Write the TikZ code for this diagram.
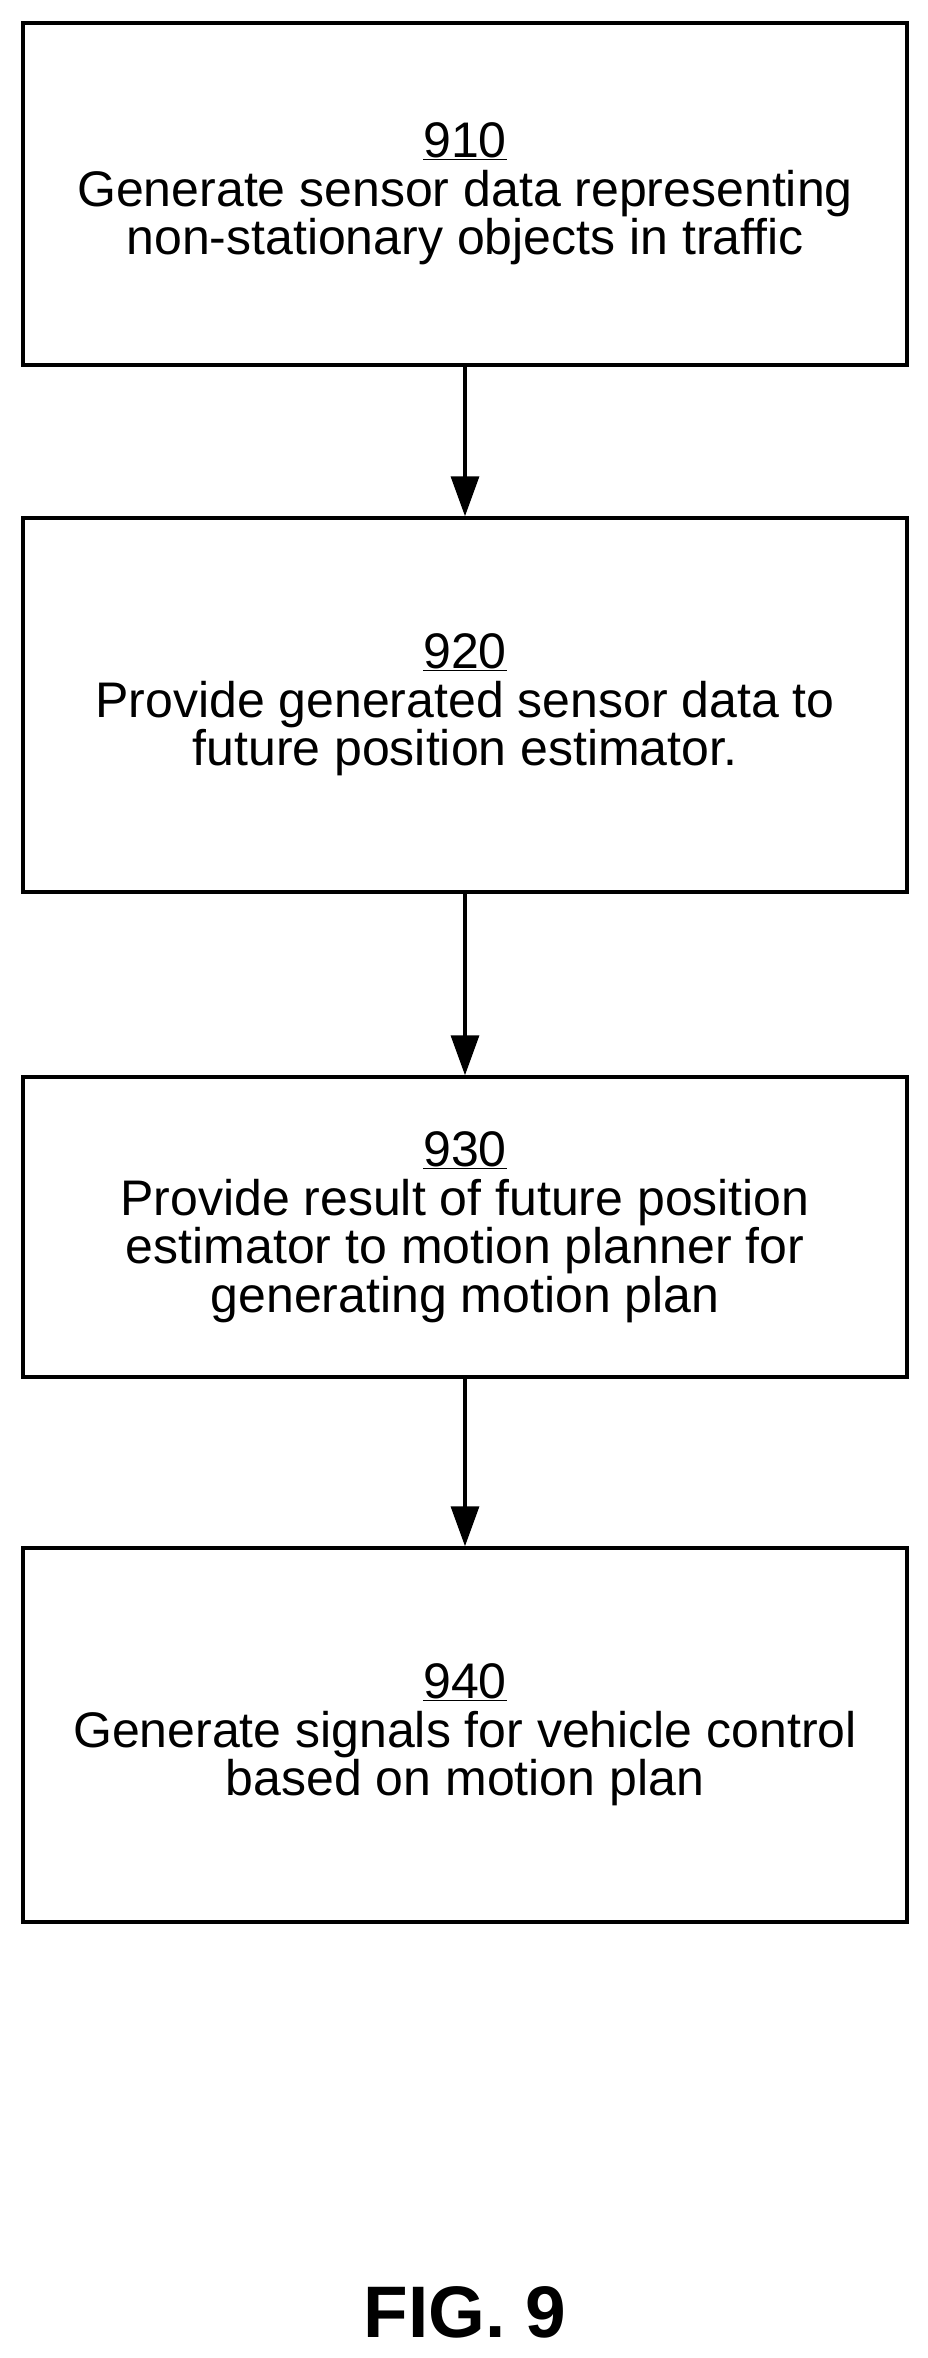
\documentclass[tikz,border=0pt]{standalone}
\usepackage{fontspec}
\setmainfont{Liberation Sans}
\usetikzlibrary{arrows.meta}
\begin{document}
\begin{tikzpicture}[x=1pt,y=-1pt,
  box/.style={draw,line width=3.5pt,minimum width=884pt,align=center,font=\fontsize{50}{48.5}\selectfont,inner sep=0pt},
  arr/.style={line width=3.5pt,-{Triangle[length=40pt,width=28pt]}}]
\useasboundingbox (0,0) rectangle (927,2358);
\node[box,minimum height=342pt] (b1) at (465,194) {\underline{910}\\Generate sensor data representing\\non-stationary objects in traffic};
\node[box,minimum height=374pt] (b2) at (465,705) {\underline{920}\\Provide generated sensor data to\\future position estimator.};
\node[box,minimum height=300pt] (b3) at (465,1227) {\underline{930}\\Provide result of future position\\estimator to motion planner for\\generating motion plan};
\node[box,minimum height=374pt] (b4) at (465,1735) {\underline{940}\\Generate signals for vehicle control\\based on motion plan};
\draw[arr] (b1) -- (b2);
\draw[arr] (b2) -- (b3);
\draw[arr] (b3) -- (b4);
\node[font=\fontsize{73}{76}\selectfont\bfseries] (fig) at (465,2312) {FIG. 9};
\end{tikzpicture}
\end{document}
